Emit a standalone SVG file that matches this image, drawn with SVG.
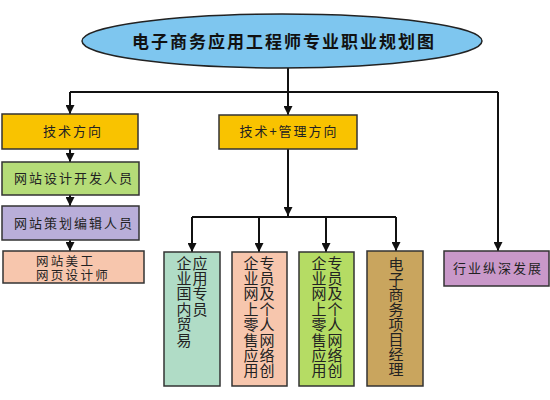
<svg xmlns="http://www.w3.org/2000/svg" width="550" height="400" viewBox="0 0 550 400">
<defs>
<marker id="ah" viewBox="0 0 10 10" refX="10" refY="5" markerWidth="9" markerHeight="9" markerUnits="userSpaceOnUse" orient="auto">
<path d="M0,0 L10,5 L0,10 Z" fill="#111"/>
</marker>
<style>
.box{stroke:#333;stroke-width:1.5}
.t{font-family:"Noto Sans CJK SC","Noto Sans CJK TC",sans-serif;font-size:13px;fill:#222;letter-spacing:2px}
.t2{font-family:"Liberation Sans","Noto Sans CJK SC",sans-serif;font-size:12.5px;fill:#222;letter-spacing:2.3px}
.v{font-family:"Noto Sans CJK SC","Noto Sans CJK TC",sans-serif;font-size:15px;fill:#222;writing-mode:tb;letter-spacing:0.4px}
.c{fill:none;stroke:#111;stroke-width:2;marker-end:url(#ah)}
.l{fill:none;stroke:#111;stroke-width:2}
</style>
</defs>
<rect width="550" height="400" fill="#fff"/>
<g id="connectors">
<path class="l" d="M288,68 V92"/>
<path class="l" d="M70,92 H498"/>
<path class="c" d="M70,92 V114"/>
<path class="c" d="M288,92 V115"/>
<path class="c" d="M498,92 V251"/>
<path class="c" d="M70,149 V162"/>
<path class="c" d="M70,195 V206"/>
<path class="c" d="M70,240 V251"/>
<path class="c" d="M288,149 V216"/>
<path class="l" d="M192,217 H396"/>
<path class="c" d="M192,217 V252"/>
<path class="c" d="M259,217 V252"/>
<path class="c" d="M326,217 V252"/>
<path class="c" d="M396,217 V251"/>
</g>
<g id="title">
<ellipse cx="282" cy="41" rx="200" ry="27" fill="#7ec6ef" stroke="#222" stroke-width="1.5"/>
<text x="284" y="47.5" text-anchor="middle" font-family="'Noto Sans CJK SC','Noto Sans CJK TC',sans-serif" font-size="17" font-weight="bold" letter-spacing="2" fill="#111">电子商务应用工程师专业职业规划图</text>
</g>
<g id="n-tech">
<rect class="box" x="2" y="114" width="136" height="35" fill="#f9c300"/>
<text class="t" x="73" y="136" text-anchor="middle">技术方向</text>
</g>
<g id="n-techmgmt">
<rect class="box" x="219" y="115" width="138" height="34" fill="#f9c300"/>
<text class="t" x="289" y="136" text-anchor="middle">技术+管理方向</text>
</g>
<g id="n-dev">
<rect class="box" x="2" y="162" width="137" height="33" fill="#b5dc78"/>
<text class="t" x="74" y="183" text-anchor="middle">网站设计开发人员</text>
</g>
<g id="n-plan">
<rect class="box" x="2" y="206" width="137" height="34" fill="#b9aed9"/>
<text class="t" x="74" y="228" text-anchor="middle">网站策划编辑人员</text>
</g>
<g id="n-art">
<rect class="box" x="3" y="251" width="141" height="32" fill="#f7c6ad"/>
<text class="t2" x="36" y="266">网站美工</text>
<text class="t2" x="36" y="280">网页设计师</text>
</g>
<g id="n-trade">
<rect class="box" x="164" y="252" width="56" height="134" fill="#b0dcc6"/>
<text class="v" x="184" y="255.5">企业国内贸易</text>
<text class="v" x="200" y="255.5">应用专员</text>
</g>
<g id="n-retail1">
<rect class="box" x="232" y="252" width="55" height="134" fill="#f7c6ad"/>
<text class="v" x="251" y="255.5">企业网上零售应用</text>
<text class="v" x="267" y="255.5">专员及个人网络创</text>
</g>
<g id="n-retail2">
<rect class="box" x="299" y="252" width="55" height="134" fill="#b5dc64"/>
<text class="v" x="319" y="255.5">企业网上零售应用</text>
<text class="v" x="335" y="255.5">专员及个人网络创</text>
</g>
<g id="n-pm">
<rect class="box" x="367" y="251" width="56" height="135" fill="#c9a55e"/>
<text class="v" x="396" y="256.5" style="letter-spacing:0.1px">电子商务项目经理</text>
</g>
<g id="n-industry">
<rect class="box" x="444" y="251" width="105" height="35" fill="#c998c9"/>
<text class="t" x="498" y="273" text-anchor="middle">行业纵深发展</text>
</g>
</svg>
